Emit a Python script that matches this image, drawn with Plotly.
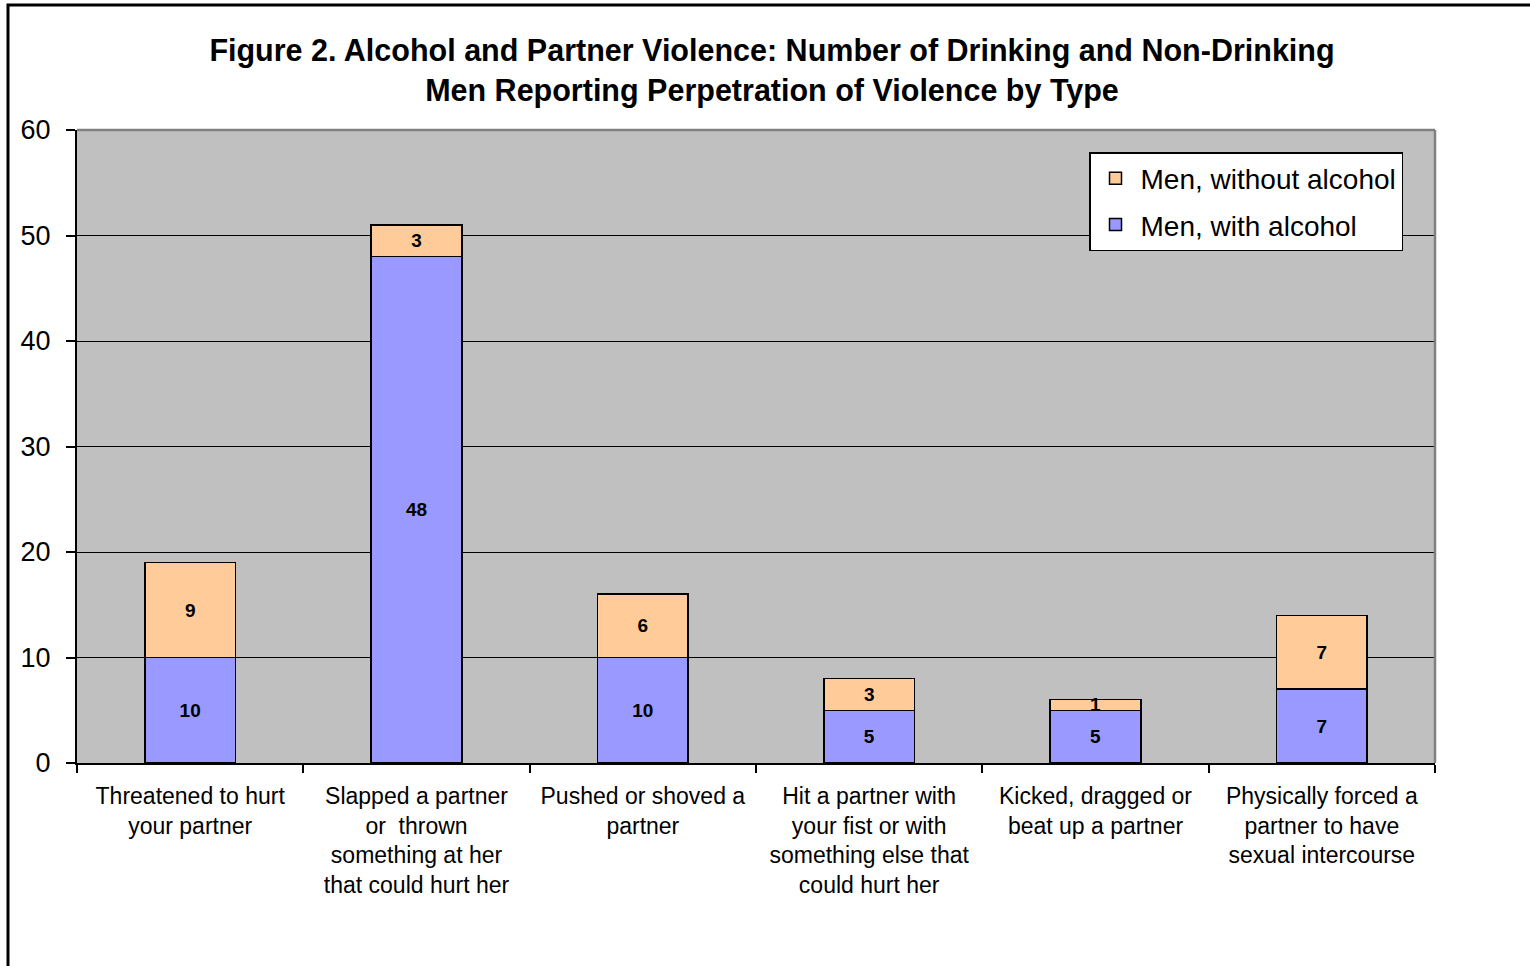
import plotly.graph_objects as go

categories = [
    "Threatened to hurt<br>your partner",
    "Slapped a partner<br>or  thrown<br>something at her<br>that could hurt her",
    "Pushed or shoved a<br>partner",
    "Hit a partner with<br>your fist or with<br>something else that<br>could hurt her",
    "Kicked, dragged or<br>beat up a partner",
    "Physically forced a<br>partner to have<br>sexual intercourse",
]
with_alcohol = [10, 48, 10, 5, 5, 7]
without_alcohol = [9, 3, 6, 3, 1, 7]
y_ticks = [0, 10, 20, 30, 40, 50, 60]

FONT = "Liberation Sans, Arial, sans-serif"

fig = go.Figure()
fig.add_trace(go.Bar(
    x=categories, y=with_alcohol, name="Men, with alcohol",
    marker=dict(color="#9999FF", line=dict(color="black", width=1.5)),
    text=[str(v) for v in with_alcohol], textposition="inside",
    insidetextanchor="middle", textangle=0, constraintext="none",
    textfont=dict(family=FONT, size=19, color="black", weight="bold"),
    legendrank=2, legendgroup="with",
))
fig.add_trace(go.Bar(
    x=categories, y=without_alcohol, name="Men, without alcohol",
    marker=dict(color="#FFCC99", line=dict(color="black", width=1.5)),
    text=[str(v) for v in without_alcohol], textposition="inside",
    insidetextanchor="middle", textangle=0, constraintext="none",
    textfont=dict(family=FONT, size=19, color="black", weight="bold"),
    legendrank=1, legendgroup="without",
))

fig.update_layout(
    width=1530, height=966,
    barmode="stack", bargap=0.6,
    paper_bgcolor="white", plot_bgcolor="#C0C0C0",
    margin=dict(l=77, r=95, t=130, b=203),
    font=dict(family=FONT, color="black"),
    title=dict(
        text="<b>Figure 2. Alcohol and Partner Violence: Number of Drinking and Non-Drinking<br>Men Reporting Perpetration of Violence by Type</b>",
        x=772 / 1530, xref="container", xanchor="center",
        y=1 - 61 / 966, yref="container", yanchor="top",
        font=dict(size=30.5, family=FONT, color="black"),
    ),
    legend=dict(
        x=(1089 - 77) / 1358, y=(763 - 152) / 633, xanchor="left", yanchor="top",
        bgcolor="white", bordercolor="black", borderwidth=1.5,
        font=dict(size=28, family=FONT, color="black"),
        traceorder="grouped", tracegroupgap=7,
        itemwidth=40,
    ),
    showlegend=True,
)
fig.update_xaxes(
    tickson="boundaries", ticks="outside", ticklen=8, tickcolor="black", tickwidth=1.5,
    showline=True, linecolor="black", linewidth=2,
    tickfont=dict(size=23, family=FONT, color="black"),
    ticklabelstandoff=11,
    showgrid=False,
)
fig.update_yaxes(
    range=[0, 60], tickvals=y_ticks, ticks="outside", ticklen=9, tickcolor="black", tickwidth=1.5,
    showline=True, linecolor="black", linewidth=2,
    showgrid=True, gridcolor="black", gridwidth=1,
    tickfont=dict(size=27, family=FONT, color="black"),
    ticklabelstandoff=10,
    zeroline=False,
)
# plot area top/right border (grey)
fig.add_shape(type="line", xref="paper", yref="paper", x0=0, x1=1, y0=1, y1=1,
              line=dict(color="#808080", width=2.5))
fig.add_shape(type="line", xref="paper", yref="paper", x0=1, x1=1, y0=0, y1=1,
              line=dict(color="#808080", width=2.5))
# outer chart border
fig.add_shape(type="rect", xref="paper", yref="paper",
              x0=(8 - 77) / 1358, x1=1.2, y0=-0.5, y1=(763 - 5) / 633,
              line=dict(color="black", width=3), layer="above")

fig.write_html("out.html")
